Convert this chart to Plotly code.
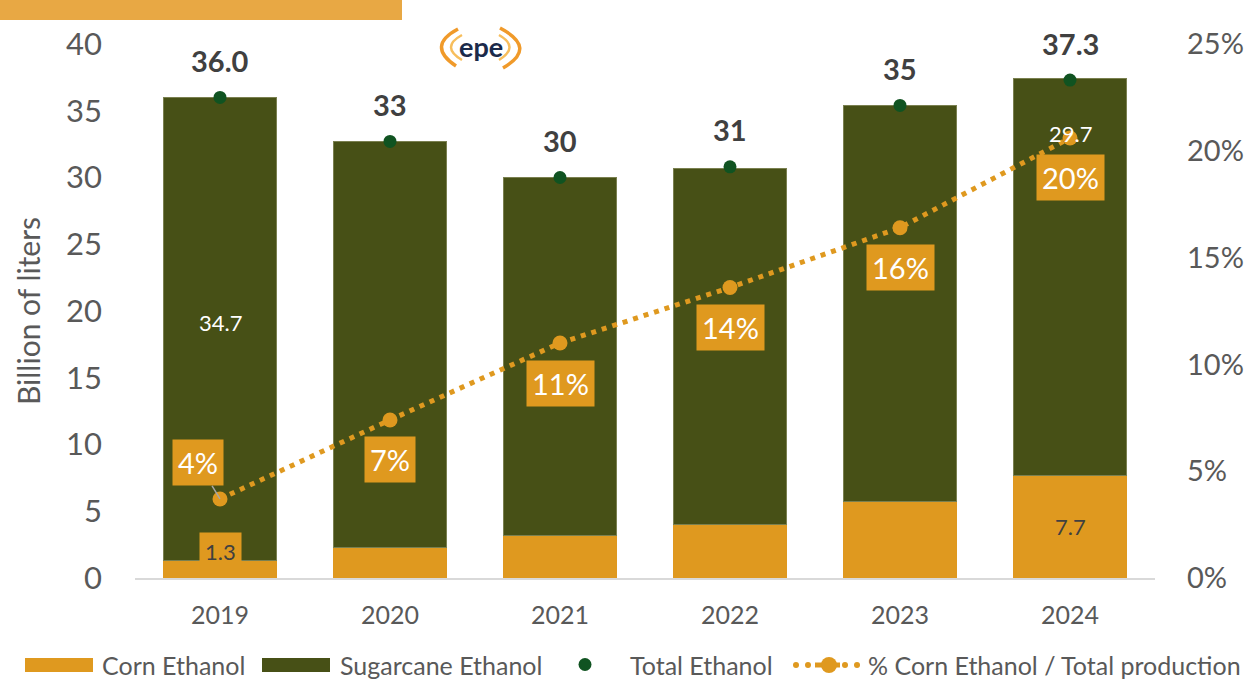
import plotly.graph_objects as go

years = ["2019", "2020", "2021", "2022", "2023", "2024"]
corn = [1.3, 2.3, 3.2, 4.0, 5.7, 7.7]
sugarcane = [34.7, 30.4, 26.8, 26.7, 29.7, 29.7]
total = [36.0, 32.7, 30.0, 30.8, 35.4, 37.3]
total_labels = ["36.0", "33", "30", "31", "35", "37.3"]
share = [3.7, 7.4, 11.0, 13.6, 16.4, 20.6]
share_labels = ["4%", "7%", "11%", "14%", "16%", "20%"]
y_ticks = [0, 5, 10, 15, 20, 25, 30, 35, 40]
y2_ticks = [0, 5, 10, 15, 20, 25]
legend_names = ["Corn Ethanol", "Sugarcane Ethanol", "Total Ethanol", "% Corn Ethanol / Total production"]

ORANGE = "#DF991F"
OLIVE = "#475016"
GREEN = "#105321"
GREY = "#595959"
DARK = "#404040"
FONT = "Lato"

# plot area in page pixels
L, R, T, B = 135, 1155, 44, 578


def px(xp):
    return (xp - L) / (R - L)


def py(yp):
    return (B - yp) / (B - T)


fig = go.Figure()
fig.add_trace(go.Bar(x=years, y=corn, name=legend_names[0], marker=dict(color=ORANGE, line=dict(width=0)),
                     hoverinfo="skip"))
fig.add_trace(go.Bar(x=years, y=sugarcane, name=legend_names[1],
                     marker=dict(color=OLIVE, line=dict(color="#7A8050", width=1)), hoverinfo="skip"))
fig.add_trace(go.Scatter(x=years, y=total, name=legend_names[2], mode="markers",
                         marker=dict(color=GREEN, size=13), hoverinfo="skip"))
fig.add_trace(go.Scatter(x=years, y=share, name=legend_names[3], yaxis="y2",
                         mode="lines+markers", line=dict(color=ORANGE, width=5, dash="5px,6px"),
                         marker=dict(color=ORANGE, size=15), hoverinfo="skip"))

ann = []
for i in range(len(years)):
    ann.append(dict(x=i, y=total[i], xref="x", yref="y", text="<b>%s</b>" % total_labels[i],
                    showarrow=False, yshift=37, font=dict(family=FONT, size=29, color=DARK)))
for i in range(len(years)):
    if i == 0:
        ann.append(dict(x=i, y=share[i], xref="x", yref="y2", text=share_labels[i], showarrow=True,
                        ax=-22, ay=-36, arrowhead=0, arrowwidth=1.5, arrowcolor="#A6A6A6",
                        bgcolor=ORANGE, borderpad=5, font=dict(family=FONT, size=29, color="white")))
    else:
        ann.append(dict(x=i, y=share[i], xref="x", yref="y2", text=share_labels[i], showarrow=False,
                        yshift=-40, bgcolor=ORANGE, borderpad=5, font=dict(family=FONT, size=29, color="white")))
# value labels
ann.append(dict(x=0, y=corn[0], xref="x", yref="y", text=f"{corn[0]:.1f}", showarrow=False, yshift=9,
                bgcolor=ORANGE, borderpad=5, font=dict(family=FONT, size=22, color=DARK)))
ann.append(dict(x=5, y=corn[5] / 2, xref="x", yref="y", text=f"{corn[5]:.1f}", showarrow=False,
                font=dict(family=FONT, size=22, color=DARK)))
ann.append(dict(x=0, y=corn[0] + sugarcane[0] / 2, xref="x", yref="y", text=f"{sugarcane[0]:.1f}",
                showarrow=False, yshift=7, font=dict(family=FONT, size=22, color="white")))
ann.append(dict(x=5, y=corn[5] + sugarcane[5], xref="x", yref="y", text=f"{sugarcane[5]:.1f}",
                showarrow=False, yshift=-55, font=dict(family=FONT, size=22, color="white")))
# logo text
ann.append(dict(x=px(481), y=py(46), xref="paper", yref="paper", xanchor="center", yanchor="middle",
                text="<b>epe</b>", showarrow=False, font=dict(family=FONT, size=27, color="#1B2A4A")))

shapes = [
    dict(type="rect", xref="paper", yref="paper", x0=px(0), x1=px(402), y0=py(20), y1=py(0),
         fillcolor="#E8A844", line=dict(width=0), layer="above"),
]
# logo arcs
for path, col, w in [
    ("M 458 29 Q 426 46 456 66", "#F09A2A", 3.5),
    ("M 462 35 Q 440 47 462 60", "#F7BE5C", 2.5),
    ("M 500 28 Q 538 48 503 68", "#F09A2A", 3.5),
    ("M 499 35 Q 520 47 499 60", "#F7BE5C", 2.5),
]:
    parts = path.split()
    conv = []
    k = 0
    while k < len(parts):
        if parts[k] in ("M", "Q"):
            conv.append(parts[k])
            k += 1
        else:
            conv.append("%.5f,%.5f" % (px(float(parts[k])), py(float(parts[k + 1]))))
            k += 2
    shapes.append(dict(type="path", xref="paper", yref="paper", path=" ".join(conv),
                       line=dict(color=col, width=w)))

# custom legend
LY = 665
shapes.append(dict(type="rect", xref="paper", yref="paper", x0=px(25), x1=px(93), y0=py(672), y1=py(658),
                   fillcolor=ORANGE, line=dict(width=0)))
shapes.append(dict(type="rect", xref="paper", yref="paper", x0=px(262), x1=px(330), y0=py(672), y1=py(658),
                   fillcolor=OLIVE, line=dict(width=0)))
shapes.append(dict(type="circle", xref="paper", yref="paper", x0=px(578.5), x1=px(591.5), y0=py(671),
                   y1=py(658), fillcolor=GREEN, line=dict(width=0)))
for cx in (796, 808, 845, 857):
    shapes.append(dict(type="circle", xref="paper", yref="paper", x0=px(cx - 3), x1=px(cx + 3),
                       y0=py(LY + 3), y1=py(LY - 3), fillcolor=ORANGE, line=dict(width=0)))
shapes.append(dict(type="line", xref="paper", yref="paper", x0=px(815), x1=px(840), y0=py(LY), y1=py(LY),
                   line=dict(color=ORANGE, width=5)))
shapes.append(dict(type="circle", xref="paper", yref="paper", x0=px(821), x1=px(837), y0=py(LY + 8),
                   y1=py(LY - 8), fillcolor=ORANGE, line=dict(width=0)))
for name, xs in zip(legend_names, (100, 338, 628, 866)):
    ann.append(dict(x=px(xs), y=py(LY), xref="paper", yref="paper", xanchor="left", yanchor="middle",
                    text=name, showarrow=False, font=dict(family=FONT, size=25, color=GREY)))

fig.update_layout(
    width=1247, height=690,
    margin=dict(l=L, r=1247 - R, t=T, b=690 - B, autoexpand=False),
    paper_bgcolor="white", plot_bgcolor="white",
    barmode="stack", bargap=0.33,
    font=dict(family=FONT, color=GREY),
    showlegend=False,
    xaxis=dict(type="category", range=[-0.5, 5.5], showline=True, linecolor="#D9D9D9", linewidth=2,
               ticks="", tickfont=dict(family=FONT, size=25, color=GREY), showgrid=False,
               ticklabelstandoff=14, automargin=False),
    yaxis=dict(range=[0, 40], tickvals=y_ticks, showgrid=False, zeroline=False, showline=False,
               tickfont=dict(family=FONT, size=31, color=GREY), ticklabelstandoff=32, automargin=False,
               title=dict(text="Billion of liters", font=dict(family=FONT, size=30, color=GREY), standoff=16)),
    yaxis2=dict(range=[0, 25], tickvals=y2_ticks, ticktext=[f"{v}%" for v in y2_ticks], overlaying="y",
                side="right", showgrid=False, zeroline=False, showline=False, automargin=False,
                tickfont=dict(family=FONT, size=29, color=GREY), ticklabelstandoff=31),
    annotations=ann, shapes=shapes,
)
fig.write_html(
    "out.html",
    config={"displayModeBar": False, "staticPlot": True},
    post_script=("document.documentElement.style.margin='0';document.body.style.margin='0';"
                 "document.documentElement.style.overflow='hidden';document.body.style.overflow='hidden';"
                 "document.body.style.height='690px';"),
)
